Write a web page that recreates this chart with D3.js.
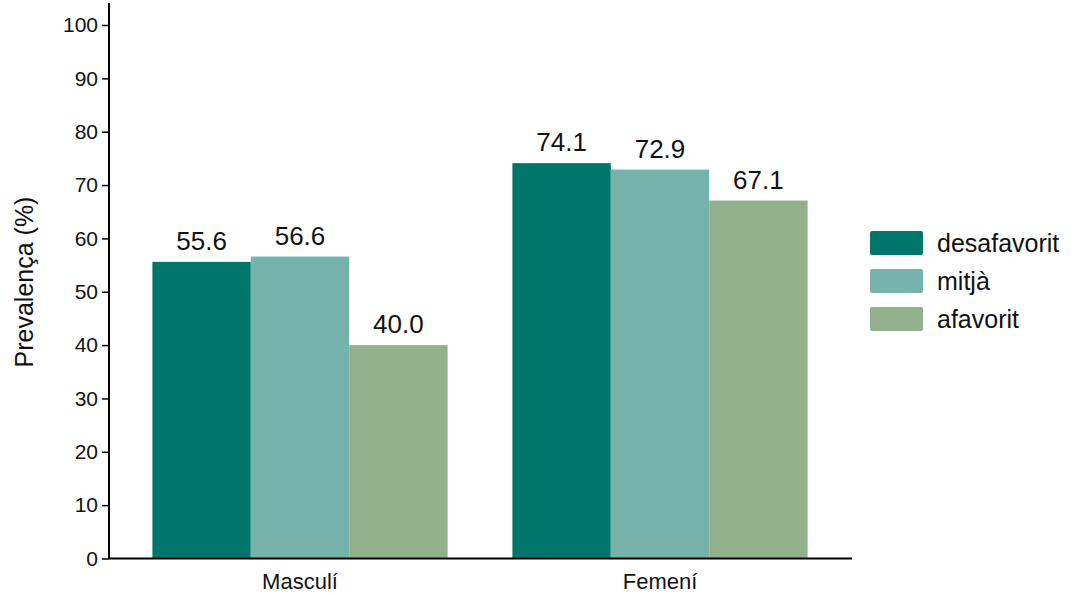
<!DOCTYPE html>
<html>
<head>
<meta charset="utf-8">
<script src="https://cdn.jsdelivr.net/npm/d3@7"></script>
<style>
  html, body { margin: 0; padding: 0; background: #fff; }
  svg { display: block; font-family: "Liberation Sans", Arial, sans-serif; }
</style>
</head>
<body>
<svg id="chart" width="1083" height="596"></svg>
<script>
const categories = ["Masculí", "Femení"];
const seriesNames = ["desafavorit", "mitjà", "afavorit"];
const desafavorit = [55.6, 74.1];
const mitja = [56.6, 72.9];
const afavorit = [40.0, 67.1];
const yTicks = [0, 10, 20, 30, 40, 50, 60, 70, 80, 90, 100];
const colors = ["#00766A", "#75B3AB", "#92B08C"];
const seriesValues = [desafavorit, mitja, afavorit];

const svg = d3.select("#chart");
const x0 = 109, xEnd = 852, yBase = 558.5, yTop = 25;

const x = d3.scaleBand().domain(categories).range([120, 840]).paddingInner(0.18).paddingOuter(0.09);
const xs = d3.scaleBand().domain(seriesNames).range([0, x.bandwidth()]);
const y = d3.scaleLinear().domain([0, 100]).range([yBase, yTop]);

const data = [];
categories.forEach((c, i) => seriesNames.forEach((s, j) => data.push({c, s, j, v: seriesValues[j][i]})));

svg.append("g").selectAll("rect").data(data).join("rect")
  .attr("x", d => x(d.c) + xs(d.s))
  .attr("y", d => y(d.v))
  .attr("width", xs.bandwidth())
  .attr("height", d => yBase - y(d.v))
  .attr("fill", d => colors[d.j]);

svg.append("g").selectAll("text").data(data).join("text")
  .attr("x", d => x(d.c) + xs(d.s) + xs.bandwidth() / 2)
  .attr("y", d => y(d.v) - 12)
  .attr("text-anchor", "middle")
  .attr("font-size", 26)
  .attr("fill", "#111")
  .text(d => d.v.toFixed(1));

// y axis
const yAxis = svg.append("g").attr("transform", `translate(${x0},0)`)
  .call(d3.axisLeft(y).tickValues(yTicks).tickSize(7).tickPadding(4).tickFormat(d3.format("d")));
yAxis.select(".domain").remove();
yAxis.append("line").attr("x1", 0).attr("x2", 0).attr("y1", 3).attr("y2", yBase).attr("stroke", "#000").attr("stroke-width", 2);
yAxis.selectAll(".tick line").attr("stroke", "#000").attr("stroke-width", 1.5);
yAxis.selectAll(".tick text").attr("font-size", 21).attr("fill", "#111").attr("font-family", "Liberation Sans, Arial, sans-serif");

// x axis
const xAxis = svg.append("g").attr("transform", `translate(0,${yBase})`)
  .call(d3.axisBottom(x).tickSize(0).tickPadding(15));
xAxis.select(".domain").remove();
xAxis.append("line").attr("x1", x0).attr("x2", xEnd).attr("y1", 0).attr("y2", 0).attr("stroke", "#000").attr("stroke-width", 2);
xAxis.selectAll(".tick text").attr("font-size", 22).attr("fill", "#111").attr("font-family", "Liberation Sans, Arial, sans-serif");

// y title
svg.append("text")
  .attr("transform", `translate(33,282) rotate(-90)`)
  .attr("text-anchor", "middle")
  .attr("font-size", 25)
  .attr("fill", "#111")
  .text("Prevalença (%)");

// legend
const legend = svg.append("g").attr("transform", "translate(870,231)");
seriesNames.forEach((s, j) => {
  const g = legend.append("g").attr("transform", `translate(0,${j * 38})`);
  g.append("rect").attr("width", 53).attr("height", 24).attr("rx", 2).attr("fill", colors[j]);
  g.append("text").attr("x", 67).attr("y", 21).attr("font-size", 25).attr("fill", "#111").text(s);
});
</script>
</body>
</html>
